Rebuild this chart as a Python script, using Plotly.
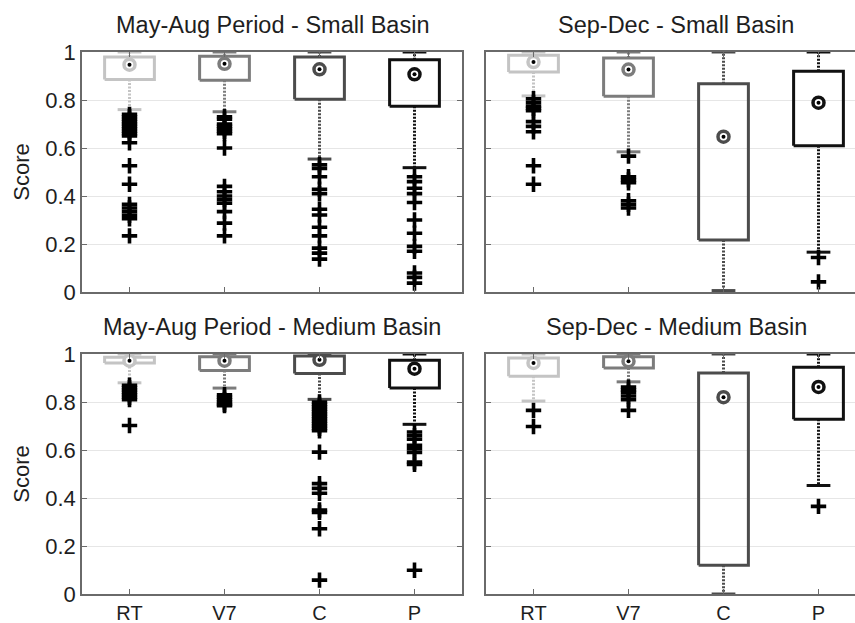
import plotly.graph_objects as go

# ---------------- data ----------------
CATEGORIES = ["RT", "V7", "C", "P"]
PANEL_TITLES = ["May-Aug Period - Small Basin", "Sep-Dec - Small Basin",
                "May-Aug Period - Medium Basin", "Sep-Dec - Medium Basin"]
Y_TICKS = [0, 0.2, 0.4, 0.6, 0.8, 1]
Y_TICKTEXT = ["0", "0.2", "0.4", "0.6", "0.8", "1"]

# May-Aug, small basin
MA_SMALL_Q1 = [0.885, 0.882, 0.803, 0.774]
MA_SMALL_MED = [0.947, 0.951, 0.928, 0.907]
MA_SMALL_Q3 = [0.979, 0.982, 0.979, 0.968]
MA_SMALL_LO = [0.760, 0.751, 0.554, 0.518]
MA_SMALL_HI = [1.0, 1.0, 1.0, 1.0]
MA_SMALL_OUT = [
    [0.74, 0.73, 0.72, 0.71, 0.70, 0.69, 0.68, 0.67, 0.66, 0.65, 0.622, 0.526,
     0.449, 0.365, 0.35, 0.335, 0.32, 0.305, 0.234],
    [0.73, 0.72, 0.70, 0.69, 0.68, 0.67, 0.66, 0.60, 0.44, 0.418, 0.40, 0.385,
     0.37, 0.335, 0.287, 0.234],
    [0.53, 0.515, 0.48, 0.428, 0.41, 0.345, 0.321, 0.27, 0.234, 0.183, 0.162, 0.137],
    [0.48, 0.46, 0.432, 0.41, 0.373, 0.30, 0.245, 0.19, 0.17, 0.079, 0.061, 0.037],
]

# Sep-Dec, small basin
SD_SMALL_Q1 = [0.917, 0.816, 0.217, 0.609]
SD_SMALL_MED = [0.958, 0.927, 0.647, 0.789]
SD_SMALL_Q3 = [0.986, 0.975, 0.868, 0.920]
SD_SMALL_LO = [0.817, 0.584, 0.006, 0.166]
SD_SMALL_HI = [1.0, 1.0, 1.0, 1.0]
SD_SMALL_OUT = [
    [0.805, 0.79, 0.775, 0.765, 0.755, 0.71, 0.69, 0.668, 0.526, 0.449],
    [0.566, 0.48, 0.467, 0.455, 0.38, 0.365, 0.35],
    [],
    [0.144, 0.042],
]

# May-Aug, medium basin
MA_MED_Q1 = [0.963, 0.931, 0.919, 0.858]
MA_MED_MED = [0.972, 0.972, 0.976, 0.939]
MA_MED_Q3 = [0.986, 0.989, 0.992, 0.974]
MA_MED_LO = [0.880, 0.858, 0.811, 0.707]
MA_MED_HI = [1.0, 1.0, 1.0, 1.0]
MA_MED_OUT = [
    [0.87, 0.86, 0.85, 0.84, 0.83, 0.82, 0.81, 0.702],
    [0.83, 0.82, 0.81, 0.80, 0.79, 0.785],
    [0.80, 0.79, 0.78, 0.77, 0.76, 0.75, 0.74, 0.73, 0.72, 0.71, 0.70, 0.69, 0.68,
     0.591, 0.46, 0.44, 0.42, 0.35, 0.34, 0.272, 0.058],
    [0.675, 0.66, 0.645, 0.62, 0.605, 0.59, 0.55, 0.54, 0.099],
]

# Sep-Dec, medium basin
SD_MED_Q1 = [0.907, 0.942, 0.120, 0.728]
SD_MED_MED = [0.963, 0.970, 0.820, 0.863]
SD_MED_Q3 = [0.983, 0.989, 0.921, 0.945]
SD_MED_LO = [0.804, 0.884, 0.0, 0.452]
SD_MED_HI = [1.0, 1.0, 1.0, 1.0]
SD_MED_OUT = [
    [0.765, 0.698],
    [0.862, 0.85, 0.84, 0.825, 0.81, 0.765],
    [],
    [0.365],
]

# ---------------- style ----------------
COLORS = ["#c4c4c4", "#7c7c7c", "#4c4c4c", "#111111"]
FONT = "Liberation Sans, Arial, Helvetica, sans-serif"
W, H = 855, 623
BOX_HW = 0.262
CAP_HW = 0.125
AXIS_COLOR = "#6a6a6a"
TEXT_COLOR = "#1e1e1e"

PANELS = [
    (MA_SMALL_Q1, MA_SMALL_MED, MA_SMALL_Q3, MA_SMALL_LO, MA_SMALL_HI, MA_SMALL_OUT),
    (SD_SMALL_Q1, SD_SMALL_MED, SD_SMALL_Q3, SD_SMALL_LO, SD_SMALL_HI, SD_SMALL_OUT),
    (MA_MED_Q1, MA_MED_MED, MA_MED_Q3, MA_MED_LO, MA_MED_HI, MA_MED_OUT),
    (SD_MED_Q1, SD_MED_MED, SD_MED_Q3, SD_MED_LO, SD_MED_HI, SD_MED_OUT),
]

# pixel geometry of the panels (left, right, top, bottom)
GEOM = [
    (82, 462, 52, 292),
    (486, 866, 52, 292),
    (82, 462, 354, 594),
    (486, 866, 354, 594),
]

fig = go.Figure()
layout_axes = {}
annotations = []

for p, (q1, med, q3, lo, hi, outs) in enumerate(PANELS):
    ax = "" if p == 0 else str(p + 1)
    xref, yref = "x" + ax, "y" + ax
    xs = [i + 1 for i in range(len(CATEGORIES))]

    for i, x in enumerate(xs):
        col = COLORS[i]
        # whiskers (dotted)
        fig.add_trace(go.Scatter(
            x=[x, x, None, x, x], y=[q3[i], hi[i], None, q1[i], lo[i]],
            mode="lines", line=dict(color=col, width=3, dash="2px,1.5px"),
            hoverinfo="skip", showlegend=False, xaxis=xref, yaxis=yref))
        # box + caps
        fig.add_trace(go.Scatter(
            x=[x - BOX_HW, x + BOX_HW, x + BOX_HW, x - BOX_HW, x - BOX_HW, None,
               x - CAP_HW, x + CAP_HW, None, x - CAP_HW, x + CAP_HW],
            y=[q1[i], q1[i], q3[i], q3[i], q1[i], None,
               hi[i], hi[i], None, lo[i], lo[i]],
            mode="lines", line=dict(color=col, width=3),
            hoverinfo="skip", showlegend=False, xaxis=xref, yaxis=yref))

    # outliers
    ox, oy = [], []
    for i, x in enumerate(xs):
        for v in outs[i]:
            ox.append(x)
            oy.append(v)
    fig.add_trace(go.Scatter(
        x=ox, y=oy, mode="markers",
        marker=dict(symbol="cross-thin", size=11, line=dict(color="#000000", width=3.6)),
        showlegend=False, xaxis=xref, yaxis=yref))

    # medians: ring + dot
    fig.add_trace(go.Scatter(
        x=xs, y=med, mode="markers",
        marker=dict(symbol="circle", size=11, color="white",
                    line=dict(color=COLORS, width=3.5)),
        showlegend=False, xaxis=xref, yaxis=yref))
    fig.add_trace(go.Scatter(
        x=xs, y=med, mode="markers",
        marker=dict(symbol="circle", size=4, color="#000000"),
        showlegend=False, xaxis=xref, yaxis=yref))

    l, r, t, b = GEOM[p]
    right_clip = min(r, W)
    x_hi = 0.5 + 4.0 * (right_clip - l) / (r - l)
    left_col = p % 2 == 0
    bottom_row = p >= 2

    layout_axes["xaxis" + ax] = dict(
        domain=[l / W, right_clip / W], range=[0.5, x_hi], automargin=False,
        anchor=yref, tickvals=xs, ticktext=CATEGORIES,
        showticklabels=bottom_row, ticks="inside", ticklen=5, tickwidth=1,
        tickcolor=AXIS_COLOR, showline=True, linecolor=AXIS_COLOR, linewidth=1.5,
        mirror="ticks", showgrid=False, zeroline=False, ticklabelstandoff=0,
        tickfont=dict(family=FONT, size=20, color=TEXT_COLOR),
        fixedrange=True)
    layout_axes["yaxis" + ax] = dict(
        domain=[1 - b / H, 1 - t / H], range=[0, 1], anchor=xref, automargin=False,
        tickvals=Y_TICKS, ticktext=Y_TICKTEXT, showticklabels=left_col,
        ticks="inside", ticklen=5, tickwidth=1, tickcolor=AXIS_COLOR,
        showline=True, linecolor=AXIS_COLOR, linewidth=1.5,
        mirror="ticks" if left_col else False,
        showgrid=True, gridcolor="#e6e6e6", gridwidth=1, zeroline=False,
        tickfont=dict(family=FONT, size=22, color=TEXT_COLOR),
        title=dict(text="Score" if left_col else "", standoff=10,
                   font=dict(family=FONT, size=22, color=TEXT_COLOR)),
        fixedrange=True)

    annotations.append(dict(
        text=PANEL_TITLES[p], xref="paper", yref="paper",
        x=((l + r) / 2) / W, y=1 - (t - 27) / H, xanchor="center", yanchor="middle",
        showarrow=False, font=dict(family=FONT, size=23.5, color=TEXT_COLOR)))

fig.update_layout(
    width=W, height=H, margin=dict(l=0, r=0, t=0, b=0),
    paper_bgcolor="white", plot_bgcolor="white",
    annotations=annotations, showlegend=False, **layout_axes)

fig.write_html("out.html")
